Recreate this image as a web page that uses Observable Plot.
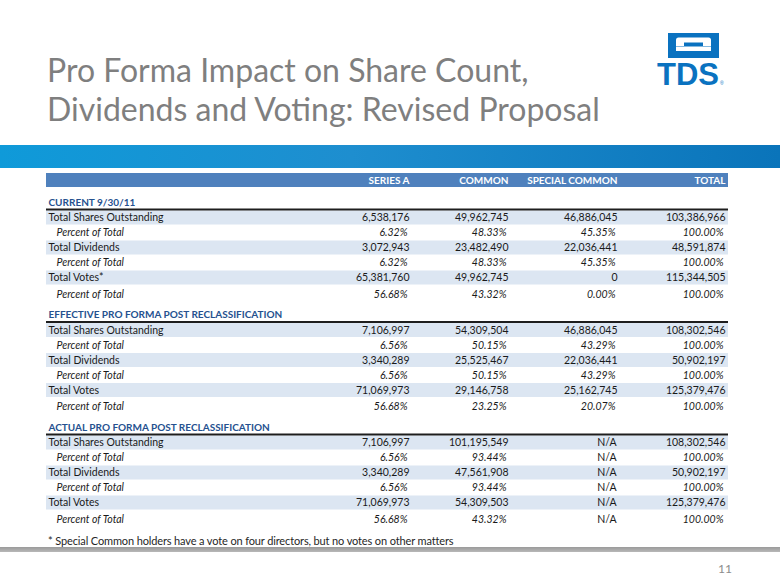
<!DOCTYPE html>
<html>
<head>
<meta charset="utf-8">
<script src="https://cdn.jsdelivr.net/npm/d3@7"></script>
<script src="https://cdn.jsdelivr.net/npm/@observablehq/plot@0.6"></script>
<style>
  html, body { margin: 0; padding: 0; background: #fff; }
  #page { position: relative; width: 780px; height: 585px; overflow: hidden; font-family: Lato, "Open Sans", sans-serif; }
  #title { position: absolute; left: 47px; top: 50px; font-size: 32px; line-height: 39px; color: #7f7f7f; white-space: nowrap; }
  #band { position: absolute; left: 0; top: 145px; width: 780px; height: 23px;
          background: linear-gradient(to right, #0f9ad9 0%, #1e8ecf 45%, #0a74ba 100%); }
  #table { position: absolute; left: 0; top: 172px; }
  #foot { position: absolute; left: 48px; top: 534px; font-size: 11px; line-height: 13px; color: #262626; white-space: nowrap; letter-spacing: -0.13px; }
  #gray { position: absolute; left: 0; top: 547px; width: 780px; height: 5px; background: linear-gradient(to bottom, #9a9a9a, #b8b8b8); }
  #pagenum { position: absolute; right: 48px; top: 562px; font-size: 12px; line-height: 14px; color: #8c8c8c; }
  #logo { position: absolute; left: 650px; top: 28px; }
  #table g[aria-label="values"] text, #table g[aria-label="percents"] text { letter-spacing: -0.4px; }
  #table g[aria-label="sections"] text { letter-spacing: -0.3px; }
</style>
</head>
<body>
<div id="page">
  <div id="title">Pro Forma Impact on Share Count,<br>Dividends and Voting: Revised Proposal</div>
  <svg id="logo" width="80" height="62" viewBox="650 28 80 62">
    <rect x="668" y="33" width="51" height="25" fill="#0a72c0"/>
    <rect x="676" y="37.5" width="35" height="5" rx="2.5" fill="#fff"/>
    <rect x="676" y="40" width="8" height="6" fill="#fff"/>
    <rect x="703" y="40" width="8" height="6" fill="#fff"/>
    <rect x="676" y="46.5" width="35" height="4.5" fill="#fff"/>
    <text x="657" y="85" font-family="Liberation Sans" font-weight="bold" font-size="32" fill="#0a72c0" textLength="62" lengthAdjust="spacingAndGlyphs">TDS</text>
    <text x="720" y="85" font-family="Liberation Sans" font-size="5" fill="#0a72c0">®</text>
  </svg>
  <div id="band"></div>
  <div id="table"></div>
  <div id="foot">* Special Common holders have a vote on four directors, but no votes on other matters</div>
  <div id="gray"></div>
  <div id="pagenum">11</div>
</div>
<script>
// ---- data ----
const columns = ["SERIES A", "COMMON", "SPECIAL COMMON", "TOTAL"];
const sections = ["CURRENT 9/30/11", "EFFECTIVE PRO FORMA POST RECLASSIFICATION", "ACTUAL PRO FORMA POST RECLASSIFICATION"];
const rowLabelsCurrent = ["Total Shares Outstanding", "Percent of Total", "Total Dividends", "Percent of Total", "Total Votes*", "Percent of Total"];
const rowLabelsProForma = ["Total Shares Outstanding", "Percent of Total", "Total Dividends", "Percent of Total", "Total Votes", "Percent of Total"];

// values per column: SERIES A, COMMON, SPECIAL COMMON, TOTAL (null = N/A)
const currentShares = [6538176, 49962745, 46886045, 103386966];
const currentSharesPct = [6.32, 48.33, 45.35, 100.00];
const currentDividends = [3072943, 23482490, 22036441, 48591874];
const currentDividendsPct = [6.32, 48.33, 45.35, 100.00];
const currentVotes = [65381760, 49962745, 0, 115344505];
const currentVotesPct = [56.68, 43.32, 0.00, 100.00];

const effectiveShares = [7106997, 54309504, 46886045, 108302546];
const effectiveSharesPct = [6.56, 50.15, 43.29, 100.00];
const effectiveDividends = [3340289, 25525467, 22036441, 50902197];
const effectiveDividendsPct = [6.56, 50.15, 43.29, 100.00];
const effectiveVotes = [71069973, 29146758, 25162745, 125379476];
const effectiveVotesPct = [56.68, 23.25, 20.07, 100.00];

const actualShares = [7106997, 101195549, null, 108302546];
const actualSharesPct = [6.56, 93.44, null, 100.00];
const actualDividends = [3340289, 47561908, null, 50902197];
const actualDividendsPct = [6.56, 93.44, null, 100.00];
const actualVotes = [71069973, 54309503, null, 125379476];
const actualVotesPct = [56.68, 43.32, null, 100.00];

// ---- build table ----
const sectionRows = [
  [currentShares, currentSharesPct, currentDividends, currentDividendsPct, currentVotes, currentVotesPct],
  [effectiveShares, effectiveSharesPct, effectiveDividends, effectiveDividendsPct, effectiveVotes, effectiveVotesPct],
  [actualShares, actualSharesPct, actualDividends, actualDividendsPct, actualVotes, actualVotesPct]
];
const sectionLabels = [rowLabelsCurrent, rowLabelsProForma, rowLabelsProForma];

// layout (pixels inside the table svg)
const tableLeft = 46, tableRight = 728;
const colRight = [409, 508, 617, 725];
const headerY = 8;
const sectionY = s => 30 + s * 112.5;
const rowY = (s, r) => sectionY(s) + 15.5 + r * 15 + (r === 5 ? 1.5 : 0);

const heads = sections.map((name, s) => ({name, y: sectionY(s), lineY: sectionY(s) + 7}));
const rows = [];
const cells = [];
sectionRows.forEach((rs, s) => {
  rs.forEach((vals, r) => {
    const pct = r % 2 === 1;
    const y = rowY(s, r);
    rows.push({label: sectionLabels[s][r], pct, y});
    vals.forEach((v, c) => cells.push({col: c, y, pct, value: v}));
  });
});
const fmtInt = d3.format(",");
const fmtPct = v => v.toFixed(2) + "%";

const textColor = "#1a1a1a";
const plot = Plot.plot({
  width: 780,
  height: 356,
  margin: 0,
  x: {type: "identity"},
  y: {type: "identity"},
  style: {fontFamily: "Lato, 'Open Sans', sans-serif", background: "transparent"},
  marks: [
    // header bar
    Plot.rect([0], {x1: () => tableLeft, x2: () => tableRight, y1: () => 1, y2: () => 15, fill: "#4f81bd"}),
    Plot.text(columns, {x: (d, i) => colRight[i], y: () => headerY, text: d => d, textAnchor: "end",
      fill: "#fff", fontWeight: "bold", fontSize: 10, ariaLabel: "columns"}),
    // shaded rows
    Plot.rect(rows.filter(d => !d.pct), {x1: () => tableLeft, x2: () => tableRight, y1: d => d.y - 7, y2: d => d.y + 7, fill: "#dce6f2"}),
    // section headers
    Plot.ruleY(heads, {y: "lineY", x1: () => tableLeft, x2: () => tableRight, stroke: "#1e1e1e", strokeWidth: 2}),
    Plot.text(heads, {x: () => 48, y: "y", text: "name", textAnchor: "start", fill: "#25518f", fontWeight: "bold", fontSize: 10, ariaLabel: "sections"}),
    // row labels
    Plot.text(rows.filter(d => !d.pct), {x: () => 48, y: "y", text: "label", textAnchor: "start", fill: textColor, fontSize: 10.5, ariaLabel: "labels"}),
    Plot.text(rows.filter(d => d.pct), {x: () => 56, y: "y", text: "label", textAnchor: "start", fill: textColor, fontSize: 10.5, fontStyle: "italic", ariaLabel: "sublabels"}),
    // values
    Plot.text(cells.filter(d => !d.pct && d.value != null), {x: d => colRight[d.col], y: "y", text: d => fmtInt(d.value), textAnchor: "end", fill: textColor, fontSize: 10.5, ariaLabel: "values"}),
    Plot.text(cells.filter(d => d.pct && d.value != null), {x: d => colRight[d.col] - 2, y: "y", text: d => fmtPct(d.value), textAnchor: "end", fill: textColor, fontSize: 10.5, fontStyle: "italic", ariaLabel: "percents"}),
    Plot.text(cells.filter(d => d.value == null), {x: d => colRight[d.col] - 1, y: "y", text: () => "N/A", textAnchor: "end", fill: textColor, fontSize: 10.5, ariaLabel: "na"})
  ]
});
document.getElementById("table").appendChild(plot);
</script>
</body>
</html>
